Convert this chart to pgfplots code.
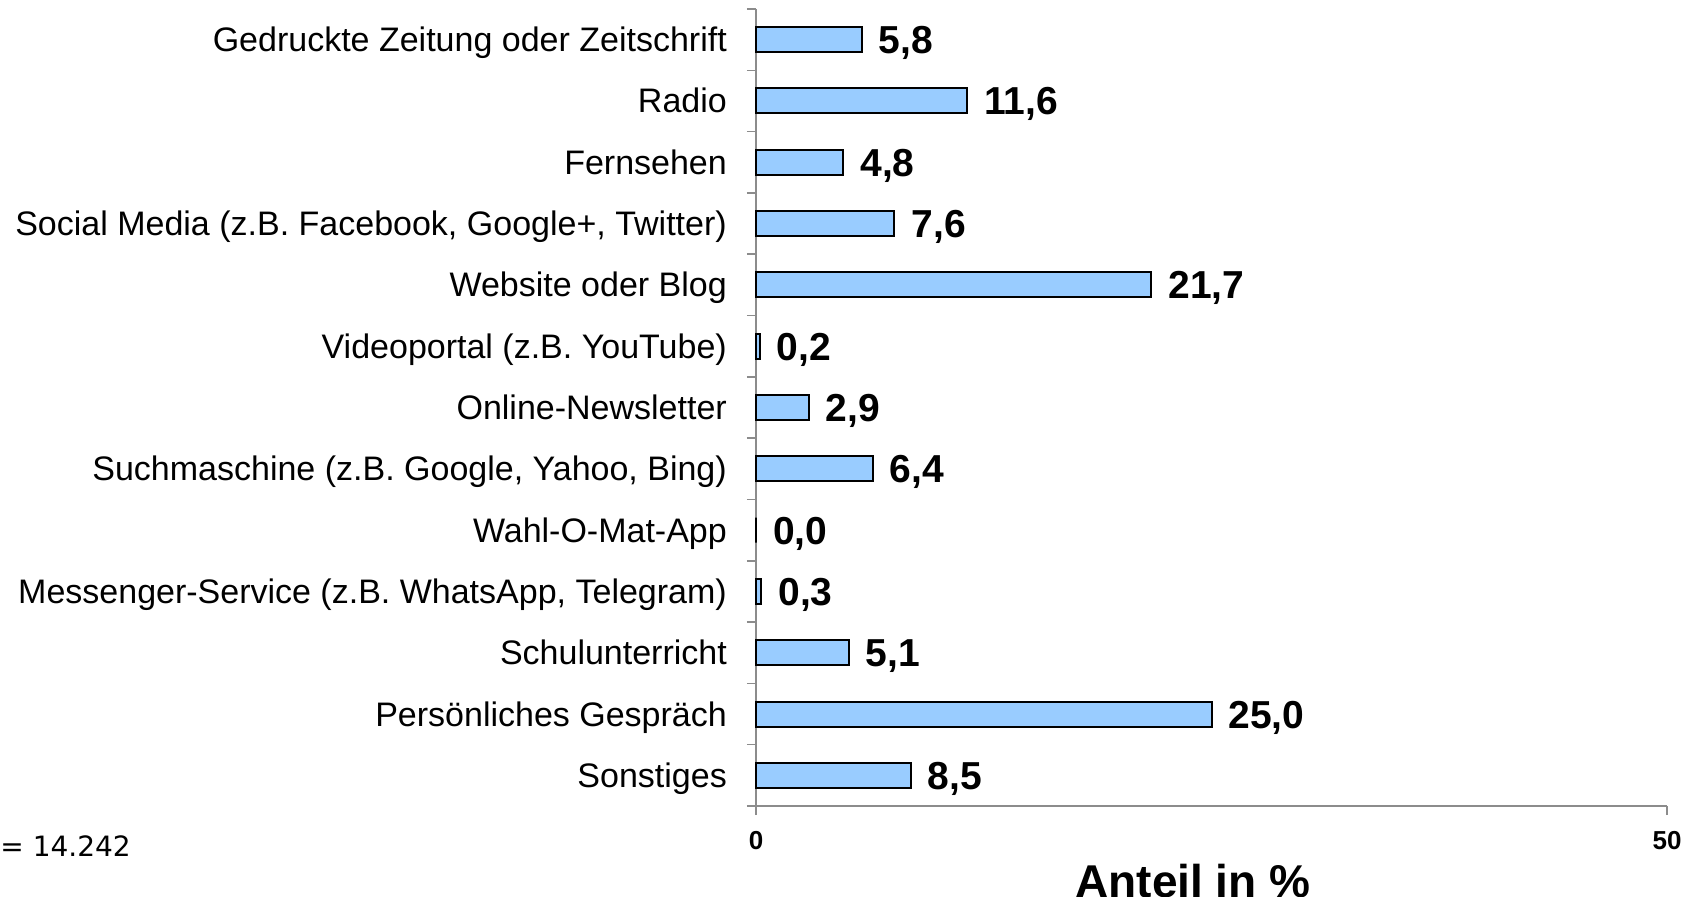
\documentclass[border=0pt]{standalone}
\usepackage{pgfplots}
\pgfplotsset{compat=1.18}
\usepackage{fontspec}
\setmainfont{Liberation Sans}
\newfontfamily\dejavu{DejaVu Sans}
\definecolor{barblue}{HTML}{99CCFF}
\definecolor{axgray}{HTML}{8C8C8C}
\begin{document}
\begin{tikzpicture}
\begin{axis}[
  at={(756bp,-806bp)}, anchor=south west,
  scale only axis, width=911bp, height=797bp,
  xbar, bar width=25bp,
  xmin=0, xmax=50, ymin=-0.5, ymax=12.5, y dir=reverse,
  axis lines*=left,
  axis line style={axgray, line width=1.5bp, -},
  tick style={axgray, line width=1.5bp},
  tick align=outside,
  major tick length=9bp,
  xtick={0,50},
  xticklabels={0,50},
  xticklabel style={font=\fontsize{26bp}{30bp}\bfseries\selectfont, anchor=base, inner sep=0pt, yshift=-34.5bp},
  ytick={-0.5,0.5,...,12.5},
  yticklabels={,,,,,,,,,,,,,,},
  extra y ticks={0,1,2,3,4,5,6,7,8,9,10,11,12},
  extra y tick labels={Gedruckte Zeitung oder Zeitschrift, Radio, Fernsehen, {Social Media (z.B. Facebook, Google+, Twitter)}, Website oder Blog, Videoportal (z.B. YouTube), Online-Newsletter, {Suchmaschine (z.B. Google, Yahoo, Bing)}, Wahl-O-Mat-App, {Messenger-Service (z.B. WhatsApp, Telegram)}, Schulunterricht, Persönliches Gespräch, Sonstiges},
  extra y tick style={tick style={draw=none}},
  yticklabel style={font=\fontsize{34bp}{40bp}\selectfont, anchor=base east, inner sep=0pt, xshift=-20bp, yshift=-12bp},
  point meta=x,
  nodes near coords={\pgfmathprintnumber[fixed,fixed zerofill,precision=1,use comma,assume math mode=true]{\pgfplotspointmeta}},
  every node near coord/.append style={font=\fontsize{39bp}{45bp}\bfseries\selectfont, anchor=base west, inner sep=0pt, xshift=16bp, yshift=-14bp, black},
  clip=false,
]
\addplot[fill=barblue, draw=black, line width=2bp] coordinates {
  (5.8,0) (11.6,1) (4.8,2) (7.6,3) (21.7,4) (0.2,5) (2.9,6) (6.4,7) (0.0,8) (0.3,9) (5.1,10) (25.0,11) (8.5,12)
};
\end{axis}
\node[anchor=base, inner sep=0pt, font=\fontsize{46bp}{52bp}\bfseries\selectfont] at (1193bp,-897bp) {Anteil in \%};
\node[anchor=base east, inner sep=0pt, font=\dejavu\fontsize{28bp}{32bp}\selectfont] at (131bp,-856bp) {n = 14.242};
\pgfresetboundingbox
\path (0,0) rectangle (1689bp,-897bp);
\end{tikzpicture}
\end{document}
